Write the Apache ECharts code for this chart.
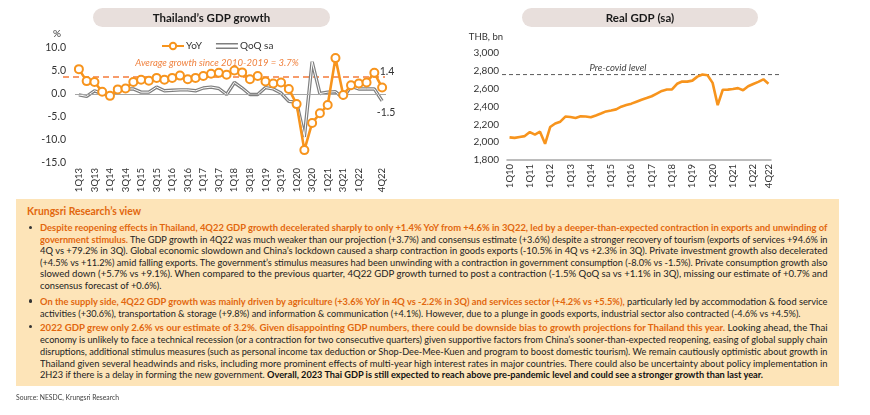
<!DOCTYPE html>
<html><head><meta charset="utf-8">
<script src="https://cdn.jsdelivr.net/npm/echarts@6/dist/echarts.min.js"></script>
<style>
html,body{margin:0;padding:0;background:#fff;}
body{width:870px;height:415px;position:relative;overflow:hidden;font-family:Lato,"Noto Sans",sans-serif;}
#chart{position:absolute;left:0;top:0;width:870px;height:415px;}
#box{position:absolute;left:16px;top:199px;width:823px;height:187px;background:#FDE4B8;}
.ln{position:absolute;left:39.5px;white-space:nowrap;font-size:10px;line-height:12px;color:#222;transform-origin:0 50%;}
.o{color:#E2670E;font-weight:bold;}
.k{font-weight:bold;color:#111;}
.bul{position:absolute;left:28.5px;width:3.6px;height:3.6px;border-radius:50%;background:#333;}
</style></head>
<body>
<div id="chart"></div>
<div id="box"></div>
<div class="ln" data-w="114" style="left:27px;top:204px;font-size:12px;line-height:14px;font-weight:bold;color:#E2670E;">Krungsri Research’s view</div>

<div class="bul" style="top:225.5px"></div>
<div class="ln" data-p="1" data-full="1" style="top:221.3px"><span class="o">Despite reopening effects in Thailand, 4Q22 GDP growth decelerated sharply to only +1.4% YoY from +4.6% in 3Q22, led by a deeper-than-expected contraction in exports and unwinding of</span></div>
<div class="ln" data-p="1" data-full="1" style="top:232.7px"><span class="o">government stimulus.</span> The GDP growth in 4Q22 was much weaker than our projection (+3.7%) and consensus estimate (+3.6%) despite a stronger recovery of tourism (exports of services +94.6% in</div>
<div class="ln" data-p="1" data-full="1" style="top:244px">4Q vs +79.2% in 3Q). Global economic slowdown and China’s lockdown caused a sharp contraction in goods exports (-10.5% in 4Q vs +2.3% in 3Q). Private investment growth also decelerated</div>
<div class="ln" data-p="1" data-full="1" style="top:255.7px">(+4.5% vs +11.2%) amid falling exports. The government’s stimulus measures had been unwinding with a contraction in government consumption (-8.0% vs -1.5%). Private consumption growth also</div>
<div class="ln" data-p="1" data-full="1" style="top:267.3px">slowed down (+5.7% vs +9.1%). When compared to the previous quarter, 4Q22 GDP growth turned to post a contraction (-1.5% QoQ sa vs +1.1% in 3Q), missing our estimate of +0.7% and</div>
<div class="ln" data-p="1" style="top:279px">consensus forecast of +0.6%).</div>

<div class="bul" style="top:299.2px"></div>
<div class="ln" data-p="2" data-full="1" style="top:295px"><span class="o">On the supply side, 4Q22 GDP growth was mainly driven by agriculture (+3.6% YoY in 4Q vs -2.2% in 3Q) and services sector (+4.2% vs +5.5%),</span> particularly led by accommodation &amp; food service</div>
<div class="ln" data-p="2" data-w="760.5" style="top:306.7px">activities (+30.6%), transportation &amp; storage (+9.8%) and information &amp; communication (+4.1%). However, due to a plunge in goods exports, industrial sector also contracted (-4.6% vs +4.5%).</div>

<div class="bul" style="top:324.9px"></div>
<div class="ln" data-p="3" data-full="1" style="top:320.7px"><span class="o">2022 GDP grew only 2.6% vs our estimate of 3.2%. Given disappointing GDP numbers, there could be downside bias to growth projections for Thailand this year.</span> Looking ahead, the Thai</div>
<div class="ln" data-p="3" data-full="1" style="top:332.7px">economy is unlikely to face a technical recession (or a contraction for two consecutive quarters) given supportive factors from China’s sooner-than-expected reopening, easing of global supply chain</div>
<div class="ln" data-p="3" data-full="1" style="top:344.7px">disruptions, additional stimulus measures (such as personal income tax deduction or Shop-Dee-Mee-Kuen and program to boost domestic tourism). We remain cautiously optimistic about growth in</div>
<div class="ln" data-p="3" data-full="1" style="top:356.7px">Thailand given several headwinds and risks, including more prominent effects of multi-year high interest rates in major countries. There could also be uncertainty about policy implementation in</div>
<div class="ln" data-p="3" data-w="723" style="top:368.3px">2H23 if there is a delay in forming the new government. <span class="k">Overall, 2023 Thai GDP is still expected to reach above pre-pandemic level and could see a stronger growth than last year.</span></div>

<div class="ln" data-w="103" style="left:16px;top:392px;font-size:8px;line-height:10px;color:#404040;">Source: NESDC, Krungsri Research</div>

<script>
// ---------- data ----------
function makeQuarters(y0, y1) {
  const out = [];
  for (let y = y0; y <= y1; y++) for (let q = 1; q <= 4; q++) out.push(q + 'Q' + String(y).slice(2));
  return out;
}
const growthQuarters = makeQuarters(2013, 2022);   // 1Q13 .. 4Q22
const yoyGrowth = [
  5.4, 2.8, 2.6, 0.5,
  -0.4, 1.0, 1.2, 2.6,
  3.1, 2.9, 3.5, 3.1,
  3.5, 4.0, 3.2, 3.5,
  3.9, 4.4, 4.6, 4.2,
  5.1, 4.7, 3.2, 3.9,
  2.7, 2.3, 2.5, 1.1,
  -2.2, -12.2, -6.3, -4.2,
  -2.4, 7.8, -0.2, 1.9,
  2.3, 2.5, 4.6, 1.4
];
const qoqGrowth = [
  -0.2, -0.5, 0.7, 0.1,
  -0.4, 0.8, 1.1, 1.1,
  0.4, 0.4, 1.5, 0.7,
  0.8, 0.9, 0.9, 0.7,
  1.3, 1.5, 1.2, -0.1,
  2.5, 1.3, -0.1, -0.1,
  1.4, 1.1, 0.2, -1.6,
  -1.8, -9.3, 7.0, 0.1,
  0.4, 0.5, -0.9, 1.7,
  1.1, 1.1, 1.1, -1.5
];
const avgGrowth = 3.7;
const growthTicks = { min: -15, max: 10, step: 5 };

const gdpQuarters = makeQuarters(2010, 2022);     // 1Q10 .. 4Q22
const realGdp = [
  2054, 2048, 2058, 2068,
  2113, 2085, 2117, 1982,
  2170, 2210, 2230, 2287,
  2283, 2272, 2290, 2287,
  2279, 2300, 2322, 2345,
  2356, 2368, 2398, 2416,
  2432, 2454, 2476, 2495,
  2515, 2545, 2575, 2590,
  2592, 2655, 2680, 2679,
  2690, 2735, 2758, 2750,
  2665, 2415, 2588, 2589,
  2596, 2606, 2582, 2627,
  2652, 2676, 2705, 2656
];
const preCovidLevel = 2758;
const gdpTicks = { min: 1800, max: 3000, step: 200 };

// ---------- chart ----------
const FONT = 'Lato, "Noto Sans", sans-serif';
const ORANGE = '#F7941D';
const chart = echarts.init(document.getElementById('chart'), null, { renderer: 'canvas' });

const lastIdx = yoyGrowth.length - 1;
const yoyData = yoyGrowth.map((v, i) => i === lastIdx ? {
  value: v, label: { show: true, position: 'top', offset: [5, -1], distance: 4, formatter: p => p.value.toFixed(1), color: '#333', fontSize: 10.5, fontFamily: FONT }
} : v);
const qoqData = qoqGrowth.map((v, i) => i === qoqGrowth.length - 1 ? {
  value: v, symbol: 'circle', symbolSize: 2,
  itemStyle: { color: 'rgba(0,0,0,0)', borderWidth: 0 },
  label: { show: true, position: 'bottom', offset: [4, 0], distance: 5, formatter: p => p.value.toFixed(1), color: '#333', fontSize: 10.5, fontFamily: FONT }
} : v);

const axisLbl = { color: '#333', fontFamily: FONT };

const option = {
  animation: false,
  textStyle: { fontFamily: FONT },
  graphic: [
    { type: 'rect', x: 93, y: 8, shape: { width: 237, height: 19, r: 9.5 }, style: { fill: '#E8DFDC' } },
    { type: 'text', x: 211.5, y: 17.8, style: { text: 'Thailand’s GDP growth', font: 'bold 11.5px Lato', fill: '#1a1a1a', align: 'center', verticalAlign: 'middle' } },
    { type: 'rect', x: 522, y: 8, shape: { width: 236, height: 19, r: 9.5 }, style: { fill: '#E8DFDC' } },
    { type: 'text', x: 640, y: 17.8, style: { text: 'Real GDP (sa)', font: 'bold 11.5px Lato', fill: '#1a1a1a', align: 'center', verticalAlign: 'middle' } }
  ],
  legend: {
    left: 156, top: 36, itemWidth: 22, itemHeight: 8, itemGap: 14,
    textStyle: { fontSize: 10, color: '#333', padding: [0, 0, 0, -3] },
    data: [
      { name: 'YoY' },
      { name: 'QoQ sa', icon: 'path://M0,0H22V1.6H0Z M0,4.4H22V6H0Z', itemStyle: { color: '#7F7F7F' } }
    ]
  },
  grid: [
    { left: 75, right: 484, top: 48, bottom: 252 },
    { left: 63, right: 485, top: 48, bottom: 252 },
    { left: 507, right: 99, top: 53, bottom: 255 },
    { left: 502, right: 90, top: 53, bottom: 255 }
  ],
  xAxis: [
    { gridIndex: 0, type: 'category', data: growthQuarters,
      axisLine: { show: false, onZero: false }, axisTick: { show: false },
      axisLabel: Object.assign({ rotate: 90, fontSize: 9.5, margin: 5,
        interval: i => (i % 2 === 0 && i !== growthQuarters.length - 2) || i === growthQuarters.length - 1 }, axisLbl) },
    { gridIndex: 1, type: 'category', data: ['s', 'e'], boundaryGap: false, show: false },
    { gridIndex: 2, type: 'category', data: gdpQuarters,
      axisLine: { show: true, onZero: false, lineStyle: { color: '#A6A6A6', width: 1.5 } }, axisTick: { show: false },
      axisLabel: Object.assign({ rotate: 90, fontSize: 9.5, margin: 4,
        interval: i => i % 4 === 0 || i === gdpQuarters.length - 1 }, axisLbl) },
    { gridIndex: 3, type: 'category', data: ['s', 'e'], boundaryGap: false, show: false }
  ],
  yAxis: [
    { gridIndex: 0, type: 'value', min: growthTicks.min, max: growthTicks.max, interval: growthTicks.step,
      name: '%', nameLocation: 'end', nameGap: 14,
      nameTextStyle: { align: 'right', verticalAlign: 'middle', padding: [0, 14, 0, 0], color: '#333', fontSize: 10, fontFamily: FONT },
      axisLine: { show: false }, axisTick: { show: false }, splitLine: { show: false },
      axisLabel: Object.assign({ fontSize: 10.5, margin: 9, formatter: v => v.toFixed(1) }, axisLbl) },
    { gridIndex: 1, type: 'value', min: growthTicks.min, max: growthTicks.max, show: false, splitLine: { show: false } },
    { gridIndex: 2, type: 'value', min: gdpTicks.min, max: gdpTicks.max, interval: gdpTicks.step,
      name: 'THB, bn', nameLocation: 'end', nameGap: 16,
      nameTextStyle: { align: 'right', verticalAlign: 'middle', padding: [0, 4, 0, 0], color: '#333', fontSize: 9.5, fontFamily: FONT },
      axisLine: { show: false }, axisTick: { show: false }, splitLine: { show: false },
      axisLabel: Object.assign({ fontSize: 10, margin: 8, formatter: v => v.toLocaleString('en-US') }, axisLbl) },
    { gridIndex: 3, type: 'value', min: gdpTicks.min, max: gdpTicks.max, show: false, splitLine: { show: false } }
  ],
  series: [
    { name: 'QoQ sa', type: 'line', xAxisIndex: 0, yAxisIndex: 0, data: qoqData, symbol: 'none',
      lineStyle: { color: '#7F7F7F', width: 3.4 }, itemStyle: { color: '#7F7F7F' }, z: 2,
      markLine: { silent: true, symbol: 'none', label: { show: false },
        lineStyle: { color: '#A6A6A6', width: 1, type: 'solid' }, data: [{ yAxis: 0 }] } },
    { name: 'QoQ inner', type: 'line', xAxisIndex: 0, yAxisIndex: 0, data: qoqGrowth, symbol: 'none',
      lineStyle: { color: '#FFFFFF', width: 1 }, silent: true, z: 3 },
    { name: 'YoY', type: 'line', xAxisIndex: 0, yAxisIndex: 0, data: yoyData, symbol: 'circle', symbolSize: 8,
      showAllSymbol: true,
      itemStyle: { color: '#FFFFFF', borderColor: ORANGE, borderWidth: 2 },
      lineStyle: { color: ORANGE, width: 2.6 }, z: 5 },
    { name: 'avg', type: 'line', xAxisIndex: 1, yAxisIndex: 1, data: [avgGrowth, avgGrowth], symbol: 'none',
      lineStyle: { color: '#F79B6B', width: 2, type: [6, 4] }, z: 1, silent: true,
      markLine: { silent: true, symbol: 'none', lineStyle: { color: 'rgba(0,0,0,0)', width: 0 },
        data: [{ yAxis: avgGrowth }],
        label: { show: true, position: 'insideMiddleTop', distance: 9, padding: [0, 14, 0, 0],
          formatter: 'Average growth since 2010-2019 = ' + avgGrowth + '%',
          color: '#F0823F', fontStyle: 'italic', fontSize: 9.5, fontFamily: FONT } } },
    { name: 'Real GDP', type: 'line', xAxisIndex: 2, yAxisIndex: 2, data: realGdp, symbol: 'none',
      lineStyle: { color: ORANGE, width: 2.6 }, z: 5 },
    { name: 'precovid', type: 'line', xAxisIndex: 3, yAxisIndex: 3, data: [preCovidLevel, preCovidLevel], symbol: 'none',
      lineStyle: { color: '#595959', width: 1, type: [4, 3] }, z: 1, silent: true,
      markLine: { silent: true, symbol: 'none', lineStyle: { color: 'rgba(0,0,0,0)', width: 0 },
        data: [{ yAxis: preCovidLevel }],
        label: { show: true, position: 'insideMiddleTop', distance: 2, padding: [0, 46, 0, 0],
          formatter: 'Pre-covid level', color: '#404040', fontStyle: 'italic', fontSize: 9.5, fontFamily: FONT } } }
  ]
};
chart.setOption(option);

// ---------- fit text lines ----------
function fitLines() {
  const FULL = 787.5;
  const lines = Array.from(document.querySelectorAll('.ln'));
  lines.forEach(el => el.style.transform = 'none');
  const factors = [];
  lines.forEach(el => {
    const w = el.getBoundingClientRect().width;
    let target = null;
    if (el.dataset.full) target = FULL;
    else if (el.dataset.w) target = parseFloat(el.dataset.w);
    if (target) {
      const f = target / w;
      el.style.transform = 'scaleX(' + f + ')';
      if (el.dataset.full) factors.push(f);
    }
  });
  const avg = factors.reduce((a, b) => a + b, 0) / (factors.length || 1);
  lines.forEach(el => {
    if (!el.dataset.full && !el.dataset.w) el.style.transform = 'scaleX(' + avg + ')';
  });
}
fitLines();
if (document.fonts && document.fonts.ready) document.fonts.ready.then(fitLines);
</script>
</body></html>
